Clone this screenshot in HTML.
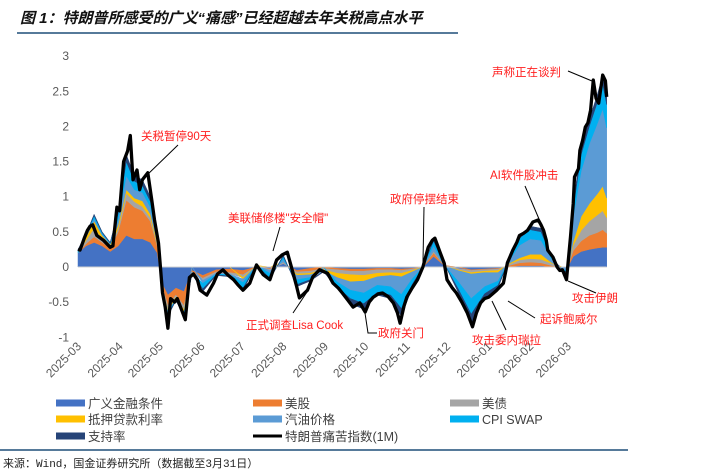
<!DOCTYPE html>
<html><head><meta charset="utf-8">
<style>
body{margin:0;background:#fff;width:711px;height:475px;overflow:hidden;font-family:"Liberation Sans","Noto Sans CJK SC",sans-serif;}
svg{display:block}
.ann{fill:#FF2020;font-size:11.5px;font-family:"Liberation Sans","Noto Sans CJK SC",sans-serif}
.tick{fill:#595959;font-size:12px}
.leg{fill:#404040;font-size:12.5px;font-family:"Liberation Sans","Noto Sans CJK SC",sans-serif}
</style></head>
<body>
<svg id="chart" width="711" height="475" viewBox="0 0 711 475">
<text x="20" y="23" font-size="15" font-weight="bold" font-style="italic" fill="#111" font-family="'Liberation Sans','Noto Sans CJK SC',sans-serif">图 1：特朗普所感受的广义“痛感”已经超越去年关税高点水平</text>
<line x1="17" y1="33" x2="458" y2="33" stroke="#1F4E79" stroke-width="1.5"/>
<g id="yaxis"></g>
<g id="areas"></g>
<line id="zero" stroke="#D0D0D0" stroke-width="1"/>
<g id="lineg"></g>
<g id="xaxis"></g>
<g id="anns"></g>
<g id="legend"></g>
<line x1="0" y1="450" x2="628" y2="450" stroke="#1F4E79" stroke-width="1.5"/>
<text x="3" y="467" font-size="11" fill="#222" font-family="'Liberation Mono','Noto Sans CJK SC',monospace">来源：Wind，国金证券研究所（数据截至3月31日）</text>
</svg>
<script>
// ---- data ----
const yTicks = [3, 2.5, 2, 1.5, 1, 0.5, 0, -0.5, -1];
const monthLabels = ["2025-03","2025-04","2025-05","2025-06","2025-07","2025-08","2025-09","2025-10","2025-11","2025-12","2026-01","2026-02","2026-03"];
const monthDays = [0,31,61,92,122,153,184,214,245,275,306,337,365];
// component sample dates (days since 2025-03-01)
const compDays = [-3,3,9,15,21,27,33,39,45,51,56,60,64,70,76,82,90,100,110,120,130,140,150,160,170,180,190,200,210,220,230,238,246,254,262,270,280,290,300,310,318,326,334,342,350,358,362,366,372,378,384,388,391];
const finCond = [.2,.3,.35,.3,.22,.3,.45,.4,.4,.35,.2,-.25,-.4,-.3,-.35,-.05,-.12,-.04,-.03,-.05,0,-.02,.05,-.05,-.02,0,-.02,-.03,-.03,-.02,-.02,-.03,-.02,0,.15,.02,-.02,-.04,-.03,-.02,0,.02,.02,.02,0,-.01,-.02,.15,.22,.25,.27,.28,.28];
const stocks = [0,.03,.08,.05,.05,.2,.5,.45,.4,.3,.1,-.05,-.15,-.1,-.2,-.02,-.04,-.03,-.05,-.06,.01,-.01,0,-.02,-.04,-.02,-.02,-.03,-.03,-.02,-.02,-.02,-.01,0,.05,0,0,-.01,-.01,-.01,.02,.04,.05,.04,.02,0,0,.08,.15,.2,.22,.25,.2];
const bonds = [0,.05,.12,.06,.03,.05,.1,.08,.06,.05,.03,-.03,-.06,-.03,-.06,-.01,-.03,-.02,-.02,-.04,.01,-.02,.02,-.03,-.03,-.02,-.05,-.05,-.06,-.05,-.04,-.04,-.02,0,.02,0,-.02,-.03,-.02,-.02,.02,.04,.05,.05,.03,0,0,.08,.15,.2,.25,.27,.22];
const mortgage = [0,.04,.1,.04,.02,.05,.05,.05,.08,.05,.03,-.01,-.02,-.02,-.03,0,0,0,0,-.02,0,0,0,-.02,-.02,-.01,-.06,-.1,-.08,-.05,-.04,-.05,-.02,0,0,0,-.01,-.02,-.02,-.03,.01,.03,.06,.07,.01,0,0,.05,.2,.25,.3,.35,.28];
const gasoline = [0,.02,.04,.02,.01,.08,.2,.12,.12,.1,.04,-.01,-.03,-.01,-.02,0,-.04,-.01,-.01,-.05,0,-.04,.04,-.06,-.04,-.01,-.06,-.12,-.17,-.12,-.16,-.25,-.1,0,.08,.01,-.15,-.35,-.2,-.12,.03,.18,.22,.2,.05,-.02,-.04,.35,.65,.85,1.0,1.1,1.0];
const cpiSwap = [.03,.02,.04,.02,.01,.08,.2,.12,.1,.08,.03,-.01,-.02,-.01,-.02,-.01,-.08,-.01,-.02,-.08,.01,-.07,.04,-.07,-.03,0,-.07,-.12,-.15,-.1,-.12,-.2,-.08,0,.07,.01,-.1,-.22,-.1,-.06,.01,.1,.13,.12,.03,-.01,-.02,.12,.23,.25,.3,.35,.33];
const approval = [.02,.01,.02,.01,.01,.04,.1,.08,.08,.07,.02,-.01,-.02,-.01,-.02,-.01,-.04,-.01,-.01,-.03,0,-.02,.02,-.03,-.02,-.01,-.02,-.07,-.08,-.04,-.05,-.11,-.05,0,.03,.01,-.05,-.13,-.07,-.04,.01,.04,.05,.05,.01,-.01,-.02,.07,.1,.1,.11,.13,.11];
// pain index line (1M)
const lineDays = [-3,-1.5,1.5,4,6,8,11,16,21,23,26,28,31,34,36,38,41,43,45,49,52,54,57,60,62,64,66,69,71,74,77,80,83,86,88,93,98,101,105,109,113,116,120,125,130,135,140,145,149,153,156,160,162,168,172,177,183,187,191,194,198,202,207,211,214,217,221,224,228,232,235,237,240,242,246,250,254,258,261,263,267,270,272,276,279,283,287,291,294,297,300,303,306,309,314,317,319,321,324,326,329,332,334,336,340,342,344,346,347,351,354,356,358,361,364,366,367,370,371,373,375,377,379,381,383,385,387,388,390,391];
const painIndex = [.25,.24,.4,.52,.58,.6,.45,.38,.28,.3,.85,.8,1.5,1.65,1.87,1.24,1.38,1.1,1.24,1.34,.95,.67,.34,-.37,-.57,-.87,-.45,-.5,-.45,-.6,-.75,-.15,-.1,-.18,-.33,-.4,-.23,-.1,-.04,-.12,-.18,-.25,-.33,-.23,.03,-.11,-.18,.1,.17,.21,0,-.28,-.44,-.33,-.14,-.04,-.09,-.23,-.3,-.37,-.47,-.57,-.51,-.64,-.5,-.43,-.38,-.37,-.42,-.51,-.65,-.8,-.55,-.43,-.3,-.18,0,.28,.38,.41,.2,.05,-.18,-.3,-.37,-.5,-.65,-.85,-.65,-.51,-.45,-.43,-.38,-.33,-.23,.06,.15,.24,.35,.45,.48,.52,.58,.64,.67,.6,.52,.38,.24,.14,0,-.05,-.04,-.18,.43,.9,1.28,1.4,1.66,1.8,1.99,2.05,2.23,2.66,2.4,2.33,2.6,2.73,2.65,2.42];

// ---- scales ----
const NS = "http://www.w3.org/2000/svg";
const X0 = 82, PXD = 1.342, Y0 = 267, PXU = 70.3;
const xS = d => X0 + d * PXD;
const yS = v => Y0 - v * PXU;
function mk(tag, attrs, parent){const e=document.createElementNS(NS,tag);for(const k in attrs)e.setAttribute(k,attrs[k]);parent.appendChild(e);return e;}

// y axis
const yax = document.getElementById('yaxis');
yTicks.forEach(t => {
  const e = mk('text', {x:69, y:yS(t)+4, 'text-anchor':'end', class:'tick'}, yax);
  
  
  e.textContent = String(t);
});

// stacked areas
const series = [
  {name:'broad-financial-conditions', vals:finCond, color:'#4472C4'},
  {name:'us-stocks', vals:stocks, color:'#ED7D31'},
  {name:'us-bonds', vals:bonds, color:'#A5A5A5'},
  {name:'mortgage-rate', vals:mortgage, color:'#FFC000'},
  {name:'gasoline-price', vals:gasoline, color:'#5B9BD5'},
  {name:'cpi-swap', vals:cpiSwap, color:'#00B0F0'},
  {name:'approval-rate', vals:approval, color:'#264478'}
];
const areas = document.getElementById('areas');
const posBase = compDays.map(()=>0), negBase = compDays.map(()=>0);
series.forEach(s => {
  const lo = [], hi = [];
  compDays.forEach((d,i) => {
    const v = s.vals[i];
    if (v >= 0){ lo.push(posBase[i]); hi.push(posBase[i]+v); posBase[i]+=v; }
    else { lo.push(negBase[i]); hi.push(negBase[i]+v); negBase[i]+=v; }
  });
  let p = '';
  compDays.forEach((d,i)=>{ p += (i?'L':'M') + xS(d).toFixed(1)+','+yS(hi[i]).toFixed(1); });
  for(let i=compDays.length-1;i>=0;i--) p += 'L'+xS(compDays[i]).toFixed(1)+','+yS(lo[i]).toFixed(1);
  const e = mk('path', {d:p+'Z', fill:s.color, stroke:s.color, 'stroke-width':0.5, 'stroke-linejoin':'round'}, areas);
  
  
});

// zero line
const z = document.getElementById('zero');
z.setAttribute('x1', xS(compDays[0])); z.setAttribute('x2', xS(compDays[compDays.length-1]));
z.setAttribute('y1', yS(0)); z.setAttribute('y2', yS(0));

// pain line
let lp = '';
lineDays.forEach((d,i)=>{ lp += (i?'L':'M') + xS(d).toFixed(1)+','+yS(painIndex[i]).toFixed(1); });
const ln = mk('path', {d:lp, fill:'none', stroke:'#000', 'stroke-width':3.3, 'stroke-linejoin':'round'}, document.getElementById('lineg'));



// x axis labels
const xax = document.getElementById('xaxis');
monthLabels.forEach((m,i)=>{
  const x = xS(monthDays[i]), y = 347;
  const e = mk('text', {x:x, y:y, 'text-anchor':'end', class:'tick', transform:`rotate(-45 ${x} ${y})`}, xax);
  
  
  e.textContent = m;
});

// annotations
const anns = [
  {t:'关税暂停90天', x:141, y:140, l:[[178,145],[146,176]]},
  {t:'美联储修楼"安全帽"', x:228, y:222, l:[[280,227],[273,251]]},
  {t:'政府停摆结束', x:390, y:203, l:[[424,207],[423,262]]},
  {t:'AI软件股冲击', x:490, y:179, l:[[525,186],[539,219]]},
  {t:'声称正在谈判', x:492, y:76, l:[[568,71],[592,81]]},
  {t:'正式调查Lisa Cook', x:246, y:329, l:[[293,313],[307,292]]},
  {t:'政府关门', x:378, y:337, l:[[365,313],[368,333],[377,333]]},
  {t:'攻击委内瑞拉', x:472, y:344, l:[[506,330],[492,301]]},
  {t:'起诉鲍威尔', x:540, y:323, l:[[535,318],[508,301]]},
  {t:'攻击伊朗', x:572, y:302, l:[[596,293],[568,281]]}
];
const ag = document.getElementById('anns');
anns.forEach(a=>{
  const pl = mk('polyline', {points:a.l.map(p=>p.join(',')).join(' '), fill:'none', stroke:'#000', 'stroke-width':1}, ag);
  
  
  const t = mk('text', {x:a.x, y:a.y, class:'ann'}, ag);
  
  
  t.textContent = a.t;
});

// legend
const lg = document.getElementById('legend');
const legItems = [
  {label:'广义金融条件', color:'#4472C4', col:0, row:0},
  {label:'美股', color:'#ED7D31', col:1, row:0},
  {label:'美债', color:'#A5A5A5', col:2, row:0},
  {label:'抵押贷款利率', color:'#FFC000', col:0, row:1},
  {label:'汽油价格', color:'#5B9BD5', col:1, row:1},
  {label:'CPI SWAP', color:'#00B0F0', col:2, row:1},
  {label:'支持率', color:'#264478', col:0, row:2},
  {label:'特朗普痛苦指数(1M)', color:'#000', col:1, row:2, line:true}
];
const colX = [56, 253, 450], rowY = [403, 419, 436];
legItems.forEach(it=>{
  const g = mk('g', {}, lg);
  
  
  const x = colX[it.col], y = rowY[it.row];
  if (it.line) mk('rect', {x:x, y:y-1.5, width:29, height:3, fill:it.color}, g);
  else mk('rect', {x:x, y:y-3.5, width:29, height:7, fill:it.color}, g);
  const t = mk('text', {x:x+32, y:y+5, class:'leg'}, g);
  t.textContent = it.label;
});
</script>
</body></html>
